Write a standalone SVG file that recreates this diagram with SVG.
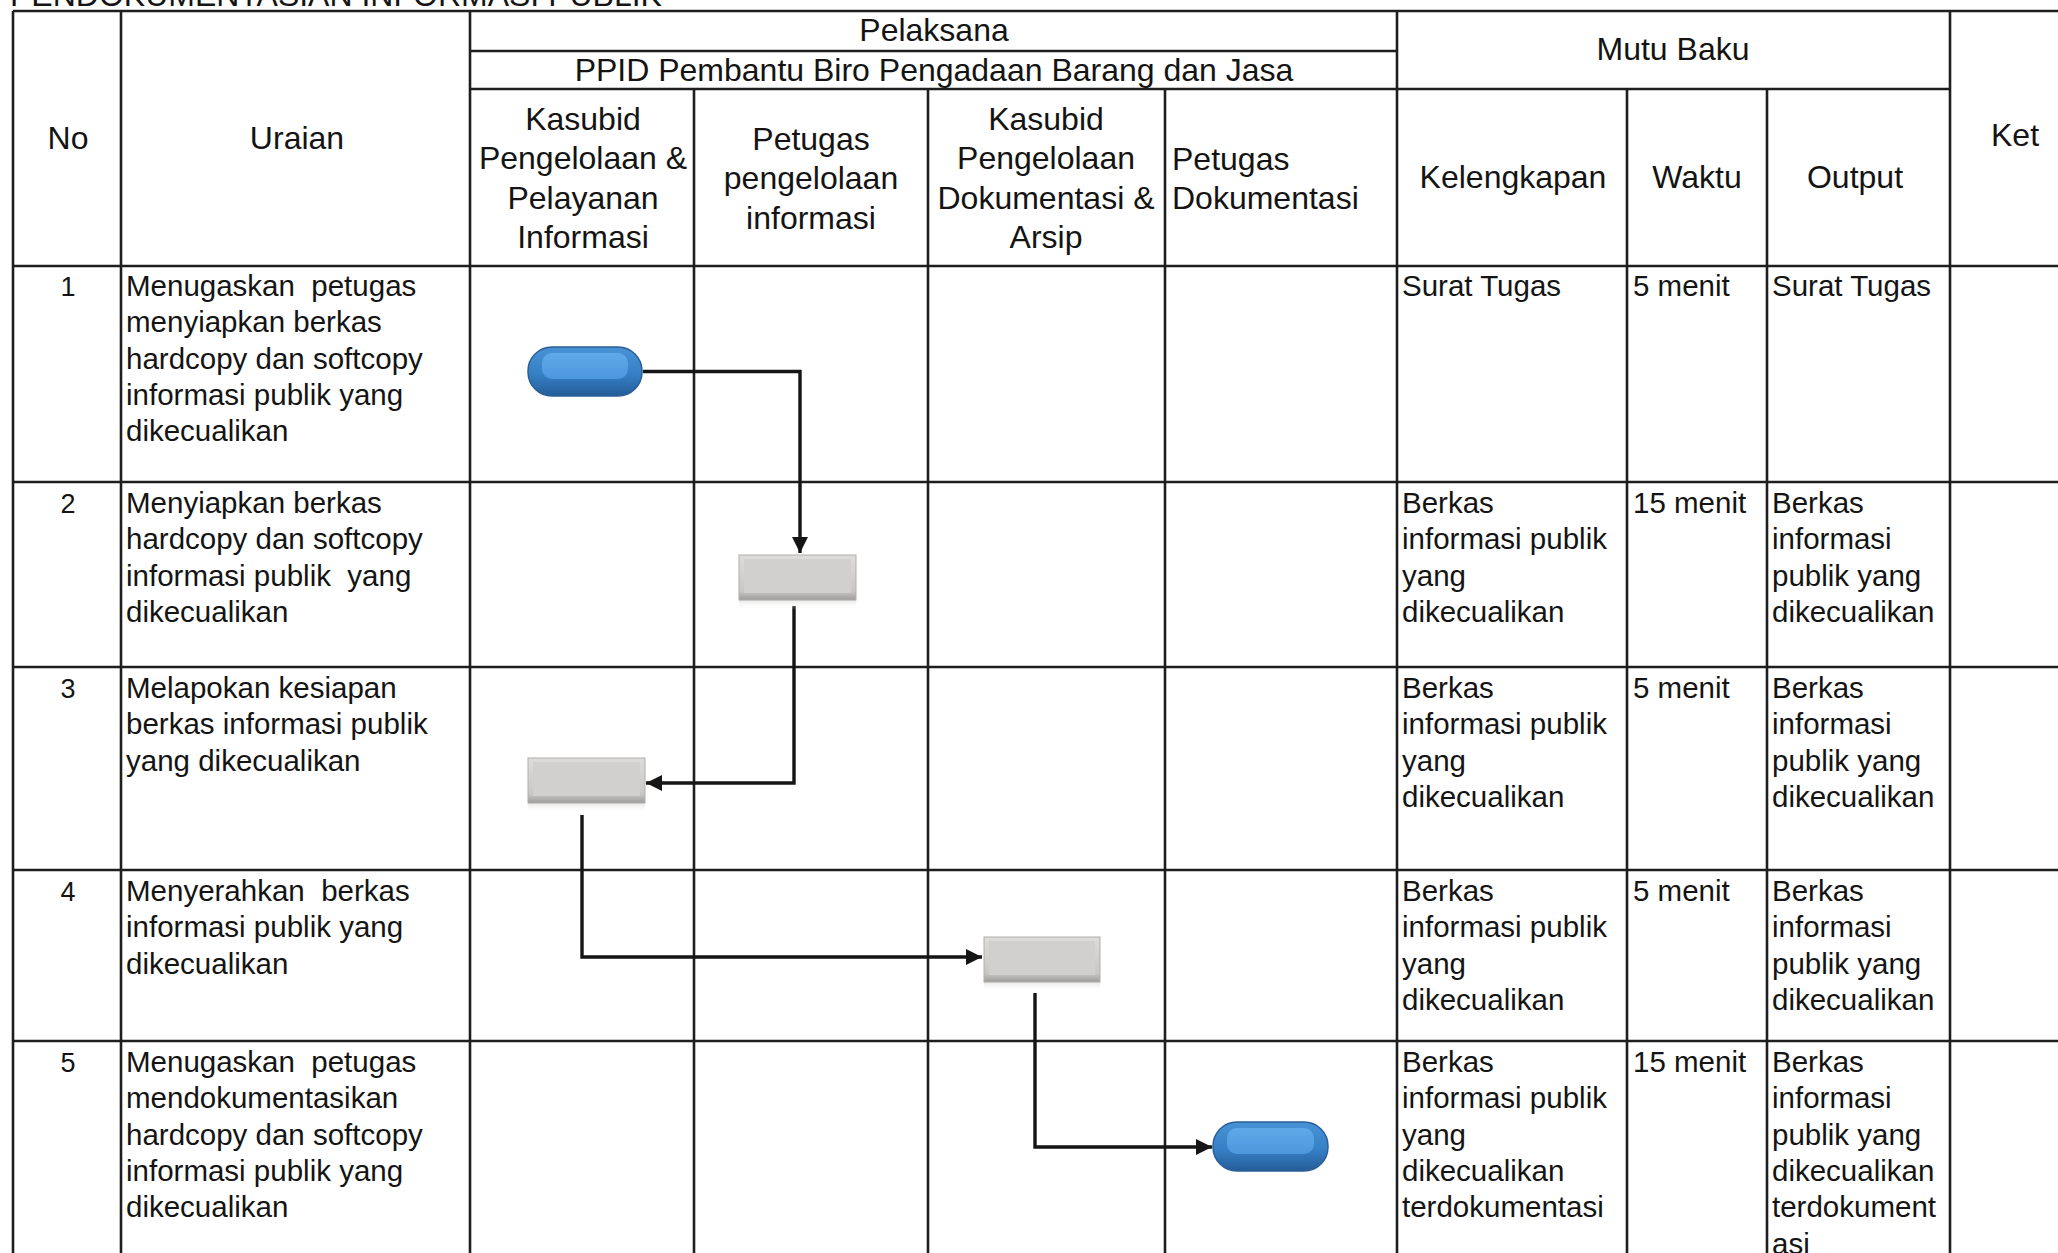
<svg xmlns="http://www.w3.org/2000/svg" width="2058" height="1253" viewBox="0 0 2058 1253">
<style>
text { font-family: "Liberation Sans", Arial, sans-serif; fill: #141414; white-space: pre; }
.h { font-size: 32px; }
.hc { font-size: 32px; text-anchor: middle; }
.b { font-size: 29.5px; }
.n { font-size: 27px; text-anchor: middle; }
.grid line { stroke: #1e1e1e; stroke-width: 2.6; }
.conn { fill: none; stroke: #151515; stroke-width: 3.4; marker-end: url(#arr); }
</style>
<defs>
<marker id="arr" markerUnits="userSpaceOnUse" markerWidth="17" markerHeight="17" refX="16" refY="8" orient="auto">
<path d="M0,0 L16,8 L0,16 z" fill="#151515"/>
</marker>
<linearGradient id="blue" x1="0" y1="0" x2="0" y2="1">
<stop offset="0" stop-color="#4893d6"/>
<stop offset="0.55" stop-color="#3680c6"/>
<stop offset="1" stop-color="#255d98"/>
</linearGradient>
<linearGradient id="blueHi" x1="0" y1="0" x2="0" y2="1">
<stop offset="0" stop-color="#5ea9e8"/>
<stop offset="1" stop-color="#4b98dc"/>
</linearGradient>
<linearGradient id="gray" x1="0" y1="0" x2="0" y2="1">
<stop offset="0" stop-color="#dedcda"/>
<stop offset="0.8" stop-color="#cac8c6"/>
<stop offset="1" stop-color="#9e9c9a"/>
</linearGradient>
<linearGradient id="refl" x1="0" y1="0" x2="0" y2="1">
<stop offset="0" stop-color="#d8d6d4" stop-opacity="0.6"/>
<stop offset="1" stop-color="#ffffff" stop-opacity="0"/>
</linearGradient>
</defs>
<rect x="0" y="0" width="2058" height="1253" fill="#ffffff"/>

<text class="h" x="10" y="6">PENDOKUMENTASIAN INFORMASI PUBLIK</text>

<g id="grid" class="grid">
<line x1="13" y1="11" x2="2058" y2="11"/>
<line x1="470" y1="51" x2="1397" y2="51"/>
<line x1="470" y1="89" x2="1950" y2="89"/>
<line x1="13" y1="266" x2="2058" y2="266"/>
<line x1="13" y1="482" x2="2058" y2="482"/>
<line x1="13" y1="667" x2="2058" y2="667"/>
<line x1="13" y1="870" x2="2058" y2="870"/>
<line x1="13" y1="1041" x2="2058" y2="1041"/>
<line x1="13" y1="11" x2="13" y2="1253"/>
<line x1="121" y1="11" x2="121" y2="1253"/>
<line x1="470" y1="11" x2="470" y2="1253"/>
<line x1="694" y1="89" x2="694" y2="1253"/>
<line x1="928" y1="89" x2="928" y2="1253"/>
<line x1="1165" y1="89" x2="1165" y2="1253"/>
<line x1="1397" y1="11" x2="1397" y2="1253"/>
<line x1="1627" y1="89" x2="1627" y2="1253"/>
<line x1="1767" y1="89" x2="1767" y2="1253"/>
<line x1="1950" y1="11" x2="1950" y2="1253"/>
</g>

<g id="header">
<text class="hc" x="934" y="41">Pelaksana</text>
<text class="hc" x="934" y="81">PPID Pembantu Biro Pengadaan Barang dan Jasa</text>
<text class="hc" x="1673" y="60">Mutu Baku</text>
<text class="hc" x="68" y="149">No</text>
<text class="hc" x="297" y="149">Uraian</text>
<text class="hc" x="2015" y="146">Ket</text>
<text class="hc" x="583" y="130">Kasubid<tspan x="583" dy="39.4">Pengelolaan &amp;</tspan><tspan x="583" dy="39.4">Pelayanan</tspan><tspan x="583" dy="39.4">Informasi</tspan></text>
<text class="hc" x="811" y="150">Petugas<tspan x="811" dy="39.4">pengelolaan</tspan><tspan x="811" dy="39.4">informasi</tspan></text>
<text class="hc" x="1046" y="130">Kasubid<tspan x="1046" dy="39.4">Pengelolaan</tspan><tspan x="1046" dy="39.4">Dokumentasi &amp;</tspan><tspan x="1046" dy="39.4">Arsip</tspan></text>
<text class="h" x="1172" y="170">Petugas<tspan x="1172" dy="39.4">Dokumentasi</tspan></text>
<text class="hc" x="1513" y="188">Kelengkapan</text>
<text class="hc" x="1697" y="188">Waktu</text>
<text class="hc" x="1855" y="188">Output</text>
</g>

<g id="row1">
<text class="n" x="68" y="296">1</text>
<text class="b" x="126" y="296">Menugaskan  petugas<tspan x="126" dy="36.3">menyiapkan berkas</tspan><tspan x="126" dy="36.3">hardcopy dan softcopy</tspan><tspan x="126" dy="36.3">informasi publik yang</tspan><tspan x="126" dy="36.3">dikecualikan</tspan></text>
<text class="b" x="1402" y="296">Surat Tugas</text>
<text class="b" x="1633" y="296">5 menit</text>
<text class="b" x="1772" y="296">Surat Tugas</text>
</g>

<g id="row2">
<text class="n" x="68" y="513">2</text>
<text class="b" x="126" y="513">Menyiapkan berkas<tspan x="126" dy="36.3">hardcopy dan softcopy</tspan><tspan x="126" dy="36.3">informasi publik  yang</tspan><tspan x="126" dy="36.3">dikecualikan</tspan></text>
<text class="b" x="1402" y="513">Berkas<tspan x="1402" dy="36.3">informasi publik</tspan><tspan x="1402" dy="36.3">yang</tspan><tspan x="1402" dy="36.3">dikecualikan</tspan></text>
<text class="b" x="1633" y="513">15 menit</text>
<text class="b" x="1772" y="513">Berkas<tspan x="1772" dy="36.3">informasi</tspan><tspan x="1772" dy="36.3">publik yang</tspan><tspan x="1772" dy="36.3">dikecualikan</tspan></text>
</g>

<g id="row3">
<text class="n" x="68" y="698">3</text>
<text class="b" x="126" y="698">Melapokan kesiapan<tspan x="126" dy="36.3">berkas informasi publik</tspan><tspan x="126" dy="36.3">yang dikecualikan</tspan></text>
<text class="b" x="1402" y="698">Berkas<tspan x="1402" dy="36.3">informasi publik</tspan><tspan x="1402" dy="36.3">yang</tspan><tspan x="1402" dy="36.3">dikecualikan</tspan></text>
<text class="b" x="1633" y="698">5 menit</text>
<text class="b" x="1772" y="698">Berkas<tspan x="1772" dy="36.3">informasi</tspan><tspan x="1772" dy="36.3">publik yang</tspan><tspan x="1772" dy="36.3">dikecualikan</tspan></text>
</g>

<g id="row4">
<text class="n" x="68" y="901">4</text>
<text class="b" x="126" y="901">Menyerahkan  berkas<tspan x="126" dy="36.3">informasi publik yang</tspan><tspan x="126" dy="36.3">dikecualikan</tspan></text>
<text class="b" x="1402" y="901">Berkas<tspan x="1402" dy="36.3">informasi publik</tspan><tspan x="1402" dy="36.3">yang</tspan><tspan x="1402" dy="36.3">dikecualikan</tspan></text>
<text class="b" x="1633" y="901">5 menit</text>
<text class="b" x="1772" y="901">Berkas<tspan x="1772" dy="36.3">informasi</tspan><tspan x="1772" dy="36.3">publik yang</tspan><tspan x="1772" dy="36.3">dikecualikan</tspan></text>
</g>

<g id="row5">
<text class="n" x="68" y="1072">5</text>
<text class="b" x="126" y="1072">Menugaskan  petugas<tspan x="126" dy="36.3">mendokumentasikan</tspan><tspan x="126" dy="36.3">hardcopy dan softcopy</tspan><tspan x="126" dy="36.3">informasi publik yang</tspan><tspan x="126" dy="36.3">dikecualikan</tspan></text>
<text class="b" x="1402" y="1072">Berkas<tspan x="1402" dy="36.3">informasi publik</tspan><tspan x="1402" dy="36.3">yang</tspan><tspan x="1402" dy="36.3">dikecualikan</tspan><tspan x="1402" dy="36.3">terdokumentasi</tspan></text>
<text class="b" x="1633" y="1072">15 menit</text>
<text class="b" x="1772" y="1072">Berkas<tspan x="1772" dy="36.3">informasi</tspan><tspan x="1772" dy="36.3">publik yang</tspan><tspan x="1772" dy="36.3">dikecualikan</tspan><tspan x="1772" dy="36.3">terdokument</tspan><tspan x="1772" dy="36.3">asi</tspan></text>
</g>

<g id="connectors">
<path class="conn" d="M643,371.5 H800 V553"/>
<path class="conn" d="M794,606 V783 H646"/>
<path class="conn" d="M582,815 V957 H982"/>
<path class="conn" d="M1035,993 V1147 H1212"/>
</g>

<g id="node-start">
<rect x="528" y="347" width="114" height="49" rx="24" fill="url(#blue)" stroke="#2a5f98" stroke-width="1.5"/>
<rect x="542" y="353" width="86" height="26" rx="10" fill="url(#blueHi)"/>
</g>

<g id="node-2">
<rect x="739" y="600" width="117" height="10" fill="url(#refl)"/>
<rect x="739" y="555" width="117" height="45" fill="url(#gray)" stroke="#b0aeac" stroke-width="1"/>
<rect x="744" y="559" width="107" height="34" fill="#d2d0ce"/>
</g>

<g id="node-3">
<rect x="528" y="803" width="117" height="10" fill="url(#refl)"/>
<rect x="528" y="758" width="117" height="45" fill="url(#gray)" stroke="#b0aeac" stroke-width="1"/>
<rect x="533" y="762" width="107" height="34" fill="#d2d0ce"/>
</g>

<g id="node-4">
<rect x="984" y="982" width="116" height="10" fill="url(#refl)"/>
<rect x="984" y="937" width="116" height="45" fill="url(#gray)" stroke="#b0aeac" stroke-width="1"/>
<rect x="989" y="941" width="106" height="34" fill="#d2d0ce"/>
</g>

<g id="node-end">
<rect x="1213" y="1122" width="115" height="49" rx="24" fill="url(#blue)" stroke="#2a5f98" stroke-width="1.5"/>
<rect x="1227" y="1128" width="87" height="26" rx="10" fill="url(#blueHi)"/>
</g>
</svg>
